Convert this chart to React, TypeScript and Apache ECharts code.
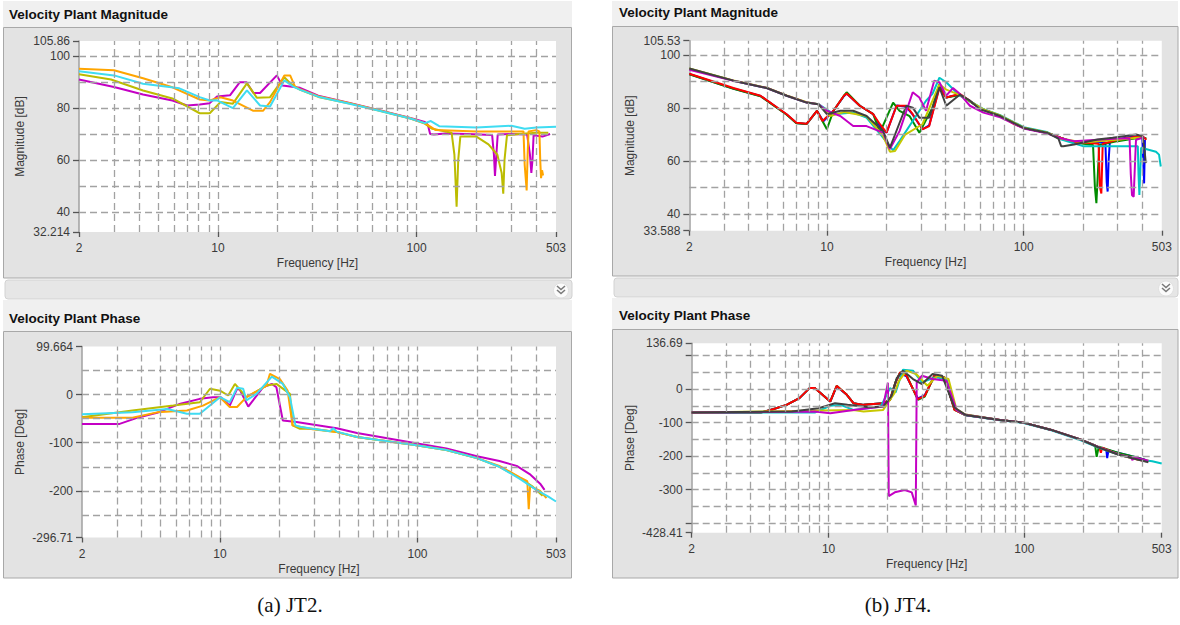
import React, { useEffect, useRef } from "react";
import * as echarts from "echarts";

// ---------- axes ----------
const FREQ_MIN = 2;
const FREQ_MAX = 503;
const freqGridLines = [3, 4, 5, 6, 7, 8, 9, 10, 20, 30, 40, 50, 60, 70, 80, 90, 100, 200, 300, 400];
const freqLabels = [2, 10, 100, 503];

const jt2MagRange = [32.214, 105.86];
const jt2MagLabels = [32.214, 40, 60, 80, 100, 105.86];
const jt2MagGrid = [40, 50, 60, 70, 80, 90, 100];

const jt2PhaseRange = [-296.71, 99.664];
const jt2PhaseLabels = [-296.71, -200, -100, 0, 99.664];
const jt2PhaseGrid = [-250, -200, -150, -100, -50, 0, 50];

const jt4MagRange = [33.588, 105.53];
const jt4MagLabels = [33.588, 40, 60, 80, 100, 105.53];
const jt4MagGrid = [40, 50, 60, 70, 80, 90, 100];

const jt4PhaseRange = [-428.41, 136.69];
const jt4PhaseLabels = [-428.41, -300, -200, -100, 0, 136.69];
const jt4PhaseTicks = [-428.41, -400, -300, -200, -100, 0, 100, 136.69];
const jt4PhaseGrid = [-400, -350, -300, -250, -200, -150, -100, -50, 0, 50, 100];

// ---------- JT2 magnitude [Hz, dB] ----------
const jt2MagMagenta = [[2, 91], [3, 88.1], [4.2, 85.2], [5.9, 82.9], [7, 81], [8.1, 81.4], [9.1, 81.9], [9.9, 84.5], [11.5, 84.9], [12.9, 90], [13.9, 90], [15.1, 85.8], [16.3, 85.8], [19.8, 92.6], [21.1, 88.7], [25.9, 87.8], [32, 84.8], [46, 82], [65, 79.2], [93, 76.2], [110, 74.6], [114, 73.5], [117, 70], [122, 69.8], [140, 70.2], [180, 70], [240, 69.6], [245, 62], [248, 53.8], [252, 62], [256, 69.8], [300, 70], [360, 69.8], [372, 62], [378, 55], [383, 60], [388, 69.5], [430, 69], [470, 70]];
const jt2MagOlive = [[2, 93], [2.9, 91], [4.2, 86.8], [5.9, 83.7], [8.1, 78], [9.1, 78], [10.3, 82.3], [11.9, 81.7], [14, 89.5], [15.7, 84], [18.3, 84.2], [21.6, 91.9], [23.5, 89], [26, 87], [32, 84.3], [46, 81.8], [65, 79], [93, 76], [110, 74], [120, 72], [150, 70.5], [155, 62], [159, 42], [162, 60], [166, 69], [200, 69], [230, 66], [255, 62], [268, 55], [273, 47], [277, 60], [285, 69.5], [330, 70], [400, 70.5], [460, 70.5]];
const jt2MagOrange = [[2, 95.2], [3, 94.6], [4.2, 91.5], [5.9, 88], [8.1, 83.3], [9.1, 82.9], [10.3, 84.2], [11.9, 82.9], [15, 79], [16.9, 79], [18.3, 82.3], [21.6, 92.6], [23.1, 92.6], [24.5, 88.1], [26, 87.2], [32, 84.6], [46, 81.9], [65, 79.1], [93, 76.1], [110, 74.2], [125, 71.5], [200, 71], [300, 71], [345, 71], [350, 58], [358, 48.2], [362, 62], [366, 71], [400, 71.5], [415, 71], [419, 60], [423, 53], [428, 56], [433, 54]];
const jt2MagCyan = [[2, 94.2], [3, 92.6], [4.2, 89.4], [6.4, 87.6], [8.1, 84.2], [9.1, 82.9], [9.9, 83], [11.9, 80], [14, 86.8], [16.3, 81], [18.3, 80.6], [21.6, 90.7], [23.9, 88.3], [26, 87], [32, 84.4], [46, 81.7], [65, 79], [93, 76], [110, 74.2], [118, 75], [130, 73], [200, 72.5], [300, 73.2], [350, 72], [400, 72.5], [503, 72.8]];

// ---------- JT2 phase [Hz, deg] ----------
const jt2PhaseMagenta = [[2, -61], [3.1, -61], [3.9, -47], [4.8, -38], [6.3, -19], [7.9, -9], [9.2, -5.5], [10.1, -5.5], [11.2, -23], [12.2, 11.7], [12.6, 9.7], [13.9, -25], [14.7, -12], [16.5, 15], [18.3, 22], [19.3, 15], [20.8, -54], [24.4, -57], [29.4, -62], [39, -70], [49.4, -80], [64.7, -88], [95, -100], [140, -112], [200, -128], [260, -138], [318, -148], [370, -165], [418, -185], [440, -198]];
const jt2PhaseOlive = [[2, -47], [3.6, -33], [5.8, -23], [7.9, -16], [8.9, 12], [10, 8], [11, -2], [11.9, 22], [13.6, -5.5], [17.2, 18.6], [19.3, 22], [22.6, 1.4], [23.3, -64], [25.4, -71], [29.4, -71], [39, -78], [49.4, -88], [64.7, -95], [95, -104], [140, -115], [200, -132], [260, -150], [320, -170], [380, -190], [430, -210]];
const jt2PhaseOrange = [[2, -48], [3.6, -48], [4.8, -37], [6.8, -33], [8.2, -23], [10, -5.5], [11.2, -26], [12.2, -26], [13.6, -5.5], [17.2, 18.6], [17.9, 43], [20.1, 32], [22, 8], [23.3, -64], [25.4, -67], [29.4, -72], [39, -78], [49.4, -88], [64.7, -95], [95, -104], [140, -115], [200, -132], [260, -148], [330, -172], [360, -180], [366, -238], [372, -190], [418, -200], [450, -215]];
const jt2PhaseCyan = [[2, -41], [3.6, -37], [5.4, -30], [6.8, -40], [7.9, -40], [10, -5.5], [11.2, -16], [12.2, 14], [13.1, 12], [13.6, -12], [15.3, 1.4], [18.3, 37], [20.8, 22], [22.6, -5.5], [24.1, -64], [25.4, -67], [29.4, -71], [36, -76], [37.5, -70], [39, -77], [49.4, -88], [64.7, -95], [95, -104], [140, -115], [200, -132], [260, -150], [330, -175], [400, -198], [460, -212], [503, -222]];

// ---------- JT4 magnitude [Hz, dB] ----------
const jt4MagBlue = [[2, 92.9], [3.35, 87.4], [4.6, 84.6], [6.25, 77.6], [7, 74.4], [7.9, 74], [8.9, 79], [9.6, 75], [10.8, 79], [12.2, 84.5], [12.6, 85.5], [14.7, 80.9], [17.2, 77.7], [18.6, 73], [20.1, 70.7], [22.6, 81], [25.3, 80.5], [27.3, 77.5], [30.6, 72], [33.1, 73.5], [37.3, 88], [40.4, 84], [47.3, 85.2], [53.3, 82.6], [60, 80], [76, 77], [100, 72.5], [131, 70.7], [154, 68.8], [180, 67], [260, 67], [264, 52], [267, 48.4], [270, 60], [274, 67.5], [340, 69], [400, 69.5], [405, 60], [409, 51.5], [413, 68]];
const jt4MagGreen = [[2, 92.8], [3.35, 87.3], [4.6, 84.5], [6.25, 77.5], [7, 74.3], [7.9, 74], [8.9, 79], [10, 72], [10.8, 79], [12.2, 84.7], [12.6, 86], [14.7, 80.9], [17.2, 77.7], [18.6, 70.7], [21.7, 82.1], [23.4, 79], [26.3, 77], [29.5, 70.7], [34.4, 80.2], [37.3, 89.2], [40.4, 84], [47.3, 85], [53.3, 82.5], [60, 80], [76, 77], [100, 72.5], [131, 70.7], [154, 68.8], [180, 67], [225, 66], [230, 50], [234, 44], [238, 55], [242, 66], [300, 67.5], [400, 69], [420, 68.5]];
const jt4MagRed = [[2, 93], [3.35, 87.6], [4.6, 84.7], [6.25, 77.7], [7, 74.5], [7.9, 74.1], [8.9, 79], [9.5, 75.1], [10.8, 79], [12.2, 84.7], [12.6, 85.5], [14.7, 80.9], [17.2, 77.7], [18.6, 73.9], [20.1, 70.7], [22.6, 80.9], [25.3, 80.9], [27.3, 77.7], [30.6, 72], [33.1, 73.2], [37.3, 87.6], [40.4, 84], [47.3, 85.4], [53.3, 82.8], [60, 80], [76, 77], [89, 74], [100, 72.5], [131, 70.7], [154, 68.8], [180, 67], [200, 67], [240, 66.5], [244, 50], [248, 47.7], [252, 66.5], [300, 68], [400, 69.5], [420, 68]];
const jt4MagCyan = [[2, 94.9], [3.35, 90.4], [4.95, 87.6], [6.25, 84.7], [7.9, 82.1], [9.06, 81.5], [10.8, 77.7], [13.6, 78.3], [15.9, 76.4], [19.3, 68.8], [21.7, 64], [23.4, 67.5], [27.3, 75.1], [31.9, 82.8], [34.4, 85.4], [37.3, 91.5], [40.4, 89.8], [47.3, 84.7], [53.3, 82.7], [62.4, 79.6], [76, 77.3], [100, 72.8], [131, 71], [154, 68.2], [200, 65.6], [300, 65.6], [380, 65.6], [383, 55], [387, 47.1], [391, 56], [395, 65], [470, 63.5], [487, 62.4], [497, 57.9]];
const jt4MagYellow = [[2, 95], [3.35, 90.5], [4.95, 87.7], [6.25, 84.8], [7.9, 82.2], [9.06, 81.5], [10.4, 77], [12.2, 78.5], [15.9, 77], [19.3, 69.5], [20.9, 63.5], [22.2, 63.8], [25, 70], [30.6, 73.9], [37.3, 89], [40.4, 87], [47.3, 85], [53.3, 82.6], [62.4, 79.5], [76, 77.2], [100, 72.6], [131, 70.8], [154, 68.5], [200, 67], [300, 68], [400, 69]];
const jt4MagMagenta = [[2, 94.5], [3.35, 90.4], [4.95, 87.6], [6.25, 84.7], [7.9, 82.1], [9.06, 81.5], [10, 79], [11.7, 77], [13.6, 73.2], [15.9, 73.2], [19.3, 70.7], [20.9, 64.5], [23.4, 71.3], [27.3, 86], [29.5, 84], [31.9, 79], [35.1, 90.4], [37.3, 89.8], [40.4, 84.7], [43.7, 87.6], [47.3, 85.4], [53.3, 80.9], [62.4, 78.3], [76, 76.5], [100, 72.3], [131, 70.5], [154, 68.6], [180, 67.5], [300, 68.5], [345, 68.5], [350, 55], [355, 47], [362, 46.5], [368, 60], [372, 68], [410, 69]];
const jt4MagGrey = [[2, 95], [3.35, 90.4], [4.95, 87.6], [6.25, 84.7], [7.9, 82.1], [9.06, 81.5], [10, 77.7], [11.7, 79], [13.6, 79], [15.9, 77], [19.3, 71.3], [20.9, 65], [25.3, 80.9], [27.3, 80.2], [29.5, 76.4], [33.1, 76.4], [37.3, 87.9], [40.4, 80.9], [47.3, 85.1], [53.3, 82.8], [60, 79.6], [76, 77], [100, 72.5], [131, 70.7], [150, 68.5], [155, 65.6], [159, 65.6], [180, 66.2], [237, 68.1], [283, 68.8], [372, 70], [401, 69.4], [410, 65], [417, 59.2]];

// ---------- JT4 phase [Hz, deg] ----------
const jt4PhaseBlue = [[2, -70], [4.5, -70], [5.2, -60], [6.1, -47], [7.1, -27], [8, 3], [8.5, 3], [10.2, -37], [11, 8], [12.4, -17], [13.4, -42], [15.1, -47], [19, -42], [20.6, -32], [22, 20], [23.2, 48], [25, 38], [28.6, -28], [31, -18], [34.8, 40], [39.1, 33], [44, -60], [49.6, -76], [75, -92], [99, -100], [136, -121], [193, -150], [242, -174], [262, -180], [265, -206], [269, -182], [300, -190], [380, -205], [420, -212]];
const jt4PhaseGreen = [[2, -70], [4.5, -70], [5.2, -60], [6.1, -47], [7.1, -27], [8, 3], [8.5, 3], [10.2, -37], [11, 10], [12.4, -17], [13.4, -42], [15.1, -47], [19, -42], [20.6, -32], [22, 22], [23.2, 50], [25, 42], [28.6, -32], [31, -22], [34.8, 42], [39.1, 35], [44, -62], [49.6, -77], [75, -92], [99, -100], [136, -121], [193, -150], [230, -168], [234, -202], [240, -172], [300, -190], [380, -205], [420, -212]];
const jt4PhaseRed = [[2, -70], [4.5, -70], [5.2, -60], [6.1, -47], [7.1, -27], [8, 3], [8.5, 3], [10.2, -37], [11, 10], [12.4, -17], [13.4, -42], [15.1, -47], [19, -42], [20.6, -32], [22, 20], [23.2, 50], [25, 40], [28.6, -30], [31, -20], [34.8, 42], [39.1, 35], [44, -62], [49.6, -77], [75, -92], [99, -100], [136, -121], [193, -150], [242, -175], [246, -190], [250, -175], [304, -196], [383, -211], [420, -215]];
const jt4PhaseCyan = [[2, -70], [8.5, -70], [10.2, -50], [11.5, -47], [13.4, -62], [18.5, -52], [20.6, 3], [22, -10], [24, 58], [27, 55], [30, 20], [35, 35], [40, 30], [45, -62], [50, -78], [75, -93], [99, -101], [136, -122], [193, -152], [242, -176], [304, -196], [383, -210], [450, -215], [503, -222]];
const jt4PhaseYellow = [[2, -70], [13.4, -62], [15.1, -67], [19, -62], [21.7, -12], [22.8, 23], [25, 55], [28, 45], [32, 10], [36, 40], [41, 30], [45, -60], [50, -76], [75, -92], [99, -100], [136, -121], [193, -150], [242, -174], [304, -195], [383, -210], [430, -214]];
const jt4PhaseMagenta = [[2, -70], [8.5, -67], [10.2, -72], [13.4, -62], [19, -52], [20.1, 19], [20.3, -319], [21.8, -308], [24.5, -301], [26.6, -308], [27.9, -347], [28.2, 20], [30, 40], [34, 30], [40, 25], [45, -62], [50, -77], [75, -92], [99, -100], [136, -121], [193, -150], [242, -174], [304, -195], [350, -203], [357, -212], [362, -203], [430, -214]];
const jt4PhaseGrey = [[2, -70], [6.5, -67], [8.9, -57], [10.8, -42], [12.5, -47], [16, -54], [19, -52], [21, -20], [22.3, 33], [24, 55], [27, 30], [30, 15], [34, 45], [38, 40], [44, -55], [50, -77], [75, -92], [99, -100], [136, -121], [193, -150], [242, -175], [304, -196], [383, -211], [430, -218]];

// ---------- colours ----------
const C = {
  magenta: "#c400c4",
  olive: "#bcbc00",
  orange: "#ffa500",
  cyanA: "#3fdcf2",
  blue: "#0000ff",
  green: "#008c00",
  red: "#ff0000",
  cyanB: "#00c4c4",
  yellow: "#c8c800",
  grey: "#404040",
};

const FONT = '"Liberation Sans", Arial, sans-serif';
const GRID_COLOR = "#a2a2a2";
const TEXT_COLOR = "#3a3a3a";

type Panel = {
  rect: { left: number; top: number; width: number; height: number };
  range: number[];
  labels: number[];
  ticks: number[];
  hGrid: number[];
  yName: string;
  yNameGap: number;
  curves: { data: number[][]; color: string }[];
};

const panels: Panel[] = [
  {
    rect: { left: 79, top: 41, width: 477, height: 191 },
    range: jt2MagRange,
    labels: jt2MagLabels,
    ticks: jt2MagLabels,
    hGrid: jt2MagGrid,
    yName: "Magnitude [dB]",
    yNameGap: 53,
    curves: [
      { data: jt2MagMagenta, color: C.magenta },
      { data: jt2MagOlive, color: C.olive },
      { data: jt2MagOrange, color: C.orange },
      { data: jt2MagCyan, color: C.cyanA },
    ],
  },
  {
    rect: { left: 82, top: 346.5, width: 474, height: 191 },
    range: jt2PhaseRange,
    labels: jt2PhaseLabels,
    ticks: jt2PhaseLabels,
    hGrid: jt2PhaseGrid,
    yName: "Phase [Deg]",
    yNameGap: 56,
    curves: [
      { data: jt2PhaseMagenta, color: C.magenta },
      { data: jt2PhaseOlive, color: C.olive },
      { data: jt2PhaseOrange, color: C.orange },
      { data: jt2PhaseCyan, color: C.cyanA },
    ],
  },
  {
    rect: { left: 689.3, top: 40.7, width: 472.5, height: 190 },
    range: jt4MagRange,
    labels: jt4MagLabels,
    ticks: jt4MagLabels,
    hGrid: jt4MagGrid,
    yName: "Magnitude [dB]",
    yNameGap: 53,
    curves: [
      { data: jt4MagBlue, color: C.blue },
      { data: jt4MagGreen, color: C.green },
      { data: jt4MagRed, color: C.red },
      { data: jt4MagCyan, color: C.cyanB },
      { data: jt4MagYellow, color: C.yellow },
      { data: jt4MagMagenta, color: C.magenta },
      { data: jt4MagGrey, color: C.grey },
    ],
  },
  {
    rect: { left: 691.7, top: 343.3, width: 470, height: 189.4 },
    range: jt4PhaseRange,
    labels: jt4PhaseLabels,
    ticks: jt4PhaseTicks,
    hGrid: jt4PhaseGrid,
    yName: "Phase [Deg]",
    yNameGap: 56,
    curves: [
      { data: jt4PhaseBlue, color: C.blue },
      { data: jt4PhaseGreen, color: C.green },
      { data: jt4PhaseRed, color: C.red },
      { data: jt4PhaseCyan, color: C.cyanB },
      { data: jt4PhaseYellow, color: C.yellow },
      { data: jt4PhaseMagenta, color: C.magenta },
      { data: jt4PhaseGrey, color: C.grey },
    ],
  },
];

function frame(x: number, y: number, w: number, h: number, fill: string, stroke?: string) {
  return {
    type: "rect",
    z: -10,
    silent: true,
    shape: { x, y, width: w, height: h },
    style: { fill, stroke: stroke || null, lineWidth: 1 },
  };
}

function title(x: number, y: number, text: string) {
  return {
    type: "text",
    z: 5,
    silent: true,
    x,
    y,
    style: { text, fill: "#111", font: `bold 13.5px ${FONT}`, align: "left", verticalAlign: "middle" },
  };
}

function collapseBar(x: number, y: number, w: number, iconX: number, iconY: number) {
  return [
    {
      type: "rect",
      z: -9,
      silent: true,
      shape: { x, y, width: w, height: 19, r: 3 },
      style: { fill: "#e6e6e6", stroke: "#d2d2d2", lineWidth: 1 },
    },
    {
      type: "circle",
      z: -8,
      silent: true,
      shape: { cx: iconX, cy: iconY, r: 7.5 },
      style: { fill: "#fbfbfb", stroke: "#e0e0e0", lineWidth: 1 },
    },
    {
      type: "polyline",
      z: -7,
      silent: true,
      shape: { points: [[iconX - 4, iconY - 4.5], [iconX, iconY - 1], [iconX + 4, iconY - 4.5]] },
      style: { stroke: "#7a7a7a", lineWidth: 1.6, fill: null },
    },
    {
      type: "polyline",
      z: -7,
      silent: true,
      shape: { points: [[iconX - 4, iconY - 0.5], [iconX, iconY + 3], [iconX + 4, iconY - 0.5]] },
      style: { stroke: "#7a7a7a", lineWidth: 1.6, fill: null },
    },
  ];
}

function buildOption() {
  const grid = panels.map((p) => ({
    left: p.rect.left,
    top: p.rect.top,
    width: p.rect.width,
    height: p.rect.height,
    show: true,
    backgroundColor: "#ffffff",
    borderWidth: 0,
    containLabel: false,
  }));

  const xAxis = panels.map((_, i) => ({
    type: "log",
    logBase: 10,
    gridIndex: i,
    min: FREQ_MIN,
    max: FREQ_MAX,
    axisLine: { show: false, onZero: false },
    axisTick: { show: true, customValues: freqLabels, length: 5, lineStyle: { color: "#555", width: 1.3 } },
    axisLabel: {
      customValues: freqLabels,
      formatter: (v: number) => String(v),
      color: TEXT_COLOR,
      fontSize: 12,
      fontFamily: FONT,
      margin: 10,
    },
    splitLine: { show: false },
    minorSplitLine: { show: false },
    name: "Frequency [Hz]",
    nameLocation: "middle",
    nameGap: 25,
    nameTextStyle: { color: TEXT_COLOR, fontSize: 12, fontFamily: FONT },
  }));

  const yAxis = panels.map((p, i) => ({
    type: "value",
    gridIndex: i,
    min: p.range[0],
    max: p.range[1],
    axisLine: { show: true, onZero: false, lineStyle: { color: "#a0a0a0", width: 1.5 } },
    axisTick: { show: true, customValues: p.ticks, length: 6, lineStyle: { color: "#555", width: 1.3 } },
    axisLabel: {
      customValues: p.labels,
      formatter: (v: number) => String(v),
      color: TEXT_COLOR,
      fontSize: 12,
      fontFamily: FONT,
      margin: 9,
    },
    splitLine: { show: false },
    name: p.yName,
    nameLocation: "middle",
    nameRotate: 90,
    nameGap: p.yNameGap,
    nameTextStyle: { color: TEXT_COLOR, fontSize: 12, fontFamily: FONT },
  }));

  const series: any[] = [];
  panels.forEach((p, i) => {
    // dashed grid drawn through the axes' own scales
    series.push({
      type: "line",
      xAxisIndex: i,
      yAxisIndex: i,
      data: [],
      z: 1,
      silent: true,
      markLine: {
        silent: true,
        symbol: ["none", "none"],
        label: { show: false },
        emphasis: { disabled: true },
        lineStyle: { color: GRID_COLOR, width: 1.3, type: [7, 4] },
        data: [
          ...freqGridLines.map((f) => ({ xAxis: f })),
          ...p.hGrid.map((v) => ({ yAxis: v })),
        ],
      },
    });
    p.curves.forEach((c) => {
      series.push({
        type: "line",
        xAxisIndex: i,
        yAxisIndex: i,
        data: c.data,
        z: 3,
        symbol: "none",
        showSymbol: false,
        clip: true,
        silent: true,
        lineStyle: { color: c.color, width: 2 },
        itemStyle: { color: c.color },
      });
    });
  });

  const graphic = [
    // JT2 column
    frame(3, 1, 569, 26, "#f0f0f0"),
    frame(3.5, 27.5, 568, 250.5, "#e3e3e3", "#a8a8a8"),
    ...collapseBar(5, 280, 567, 561, 290.5),
    frame(3, 300, 569, 31, "#f0f0f0"),
    frame(3.5, 331.5, 568, 246.5, "#e3e3e3", "#a8a8a8"),
    title(9, 14, "Velocity Plant Magnitude"),
    title(9, 318, "Velocity Plant Phase"),
    // JT4 column
    frame(612, 1, 566, 26, "#f0f0f0"),
    frame(612.5, 26.5, 565.5, 249.5, "#e3e3e3", "#a8a8a8"),
    ...collapseBar(614, 278, 564, 1166, 288.5),
    frame(612, 298, 566, 31, "#f0f0f0"),
    frame(612.5, 329.5, 565.5, 248.5, "#e3e3e3", "#a8a8a8"),
    title(619, 12.5, "Velocity Plant Magnitude"),
    title(619, 315, "Velocity Plant Phase"),
    // captions
    {
      type: "text",
      silent: true,
      x: 290,
      y: 605,
      style: { text: "(a) JT2.", fill: "#111", font: '21px "Liberation Serif", serif', align: "center", verticalAlign: "middle" },
    },
    {
      type: "text",
      silent: true,
      x: 898,
      y: 605,
      style: { text: "(b) JT4.", fill: "#111", font: '21px "Liberation Serif", serif', align: "center", verticalAlign: "middle" },
    },
  ];

  return {
    animation: false,
    backgroundColor: "#ffffff",
    grid,
    xAxis,
    yAxis,
    series,
    graphic,
  };
}

export default function App() {
  const ref = useRef<HTMLDivElement>(null);
  useEffect(() => {
    if (!ref.current) return;
    const chart = echarts.init(ref.current, undefined, { renderer: "svg" });
    chart.setOption(buildOption() as any);
    return () => chart.dispose();
  }, []);
  return (
    <div
      ref={ref}
      style={{ position: "absolute", left: 0, top: 0, width: 1180, height: 625, background: "#fff" }}
    />
  );
}
